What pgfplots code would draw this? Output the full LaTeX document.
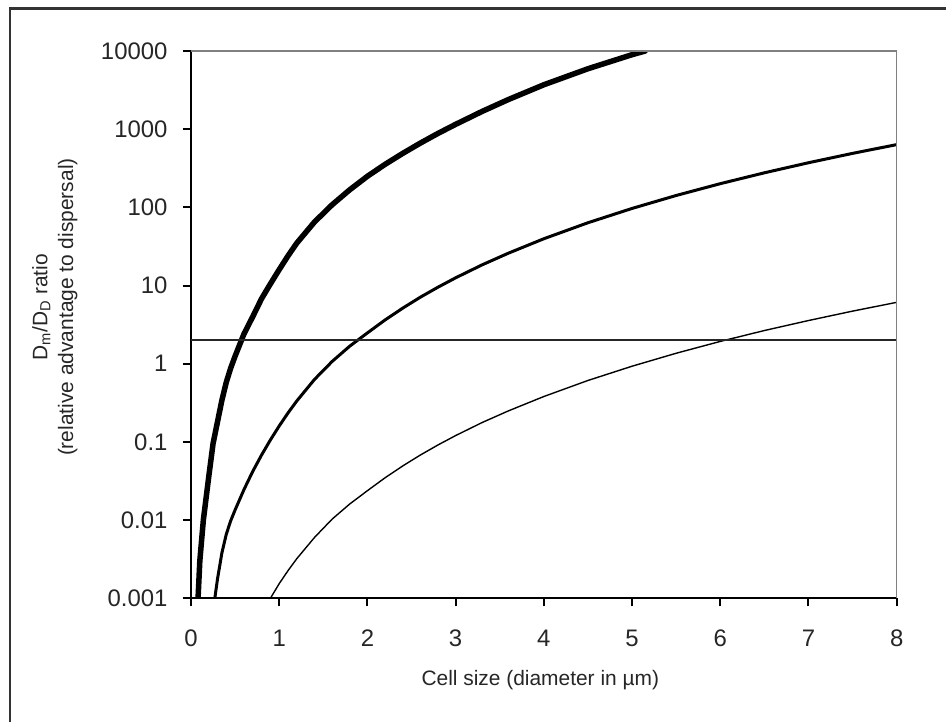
\documentclass[border=0pt]{standalone}
\usepackage{fontspec}
\setmainfont{Liberation Sans}
\usepackage{pgfplots}
\pgfplotsset{compat=1.18}

% the three curves
\pgfplotstableread{
d y
0.08 0.001
0.10 0.003
0.14 0.010
0.20 0.035
0.25 0.095
0.30 0.18
0.35 0.34
0.40 0.58
0.45 0.88
0.50 1.25
0.60 2.4
0.70 4.0
0.80 6.8
0.90 10.5
1.00 16
1.10 24
1.20 35
1.40 65
1.60 108
1.80 168
2.00 250
2.20 355
2.40 490
2.60 664
2.80 883
3.00 1153
3.30 1687
3.60 2400
4.00 3700
4.50 5930
5.00 8970
5.15 10000
}\fast

\pgfplotstableread{
d y
0.27 0.001
0.30 0.00175
0.35 0.0038
0.40 0.0066
0.45 0.0098
0.50 0.0135
0.60 0.0245
0.70 0.042
0.80 0.068
0.90 0.106
1.00 0.16
1.10 0.235
1.20 0.335
1.40 0.63
1.60 1.07
1.80 1.68
2.00 2.48
2.20 3.63
2.40 5.14
2.60 7.1
2.80 9.53
3.00 12.56
3.30 18.4
3.60 26
4.00 39.7
4.50 63.6
5.00 96.9
5.50 141.9
6.00 200.9
6.50 276.7
7.00 372.3
7.50 490.5
8.00 635
}\medium

\pgfplotstableread{
d y
0.90 0.001
1.00 0.00154
1.10 0.00226
1.20 0.00322
1.40 0.0060
1.60 0.0103
1.80 0.0161
2.00 0.0238
2.20 0.0348
2.40 0.0493
2.60 0.068
2.80 0.0915
3.00 0.1206
3.30 0.177
3.60 0.250
4.00 0.381
4.50 0.611
5.00 0.930
5.50 1.362
6.00 1.93
6.50 2.66
7.00 3.57
7.50 4.71
8.00 6.10
}\slow

\begin{document}
\begin{tikzpicture}
\useasboundingbox (-191bp,-123.7bp) rectangle (755bp,598.3bp);
\fill[white] (-191bp,-123.7bp) rectangle (755bp,598.3bp);
\begin{axis}[
  name=ax,
  scale only axis, width=705.7bp, height=547.3bp,
  xmin=0, xmax=8, ymin=0.001, ymax=10000, ymode=log,
  xtick={0,1,...,8},
  ytick={0.001,0.01,0.1,1,10,100,1000,10000},
  yticklabels={0.001,0.01,0.1,1,10,100,1000,10000},
  yminorticks=false,
  axis lines*=left,
  axis line style={black, line width=2bp, -},
  tick align=outside, major tick length=8bp,
  tick style={black, line width=2bp},
  ticklabel style={font=\fontsize{24}{28}\selectfont, color=black!85},
  yticklabel style={xshift=-12bp},
  xticklabel style={yshift=-20bp},
  /pgf/number format/assume math mode=true,
  xlabel={Cell size (diameter in µm)},
  xlabel style={at={(axis description cs:0.495,-0.149)}, anchor=center,
    font=\fontsize{21}{25}\selectfont, color=black!85},
  ylabel={D\textsubscript{m}/D\textsubscript{D} ratio\\(relative advantage to dispersal)},
  ylabel style={at={(axis description cs:-0.193,0.532)}, anchor=center, rotate=0,
    align=center, font=\fontsize{21}{26}\selectfont, color=black!85},
  every axis plot/.append style={line join=round, line cap=round},
]
\addplot[black, line width=5.5bp] table[x=d, y=y] {\fast};
\addplot[black, line width=3bp] table[x=d, y=y] {\medium};
\addplot[black, line width=1.4bp] table[x=d, y=y] {\slow};
\addplot[black!85, line width=2bp, line cap=butt] coordinates {(0,2) (8,2)};
\end{axis}
\draw[gray, line width=1.5bp] (ax.north west) -- (ax.north east) -- (ax.south east);
\draw[black!80, line width=2.5bp] (-181bp,-140bp) -- (-181bp,590bp) -- (770bp,590bp);
\end{tikzpicture}
\end{document}
